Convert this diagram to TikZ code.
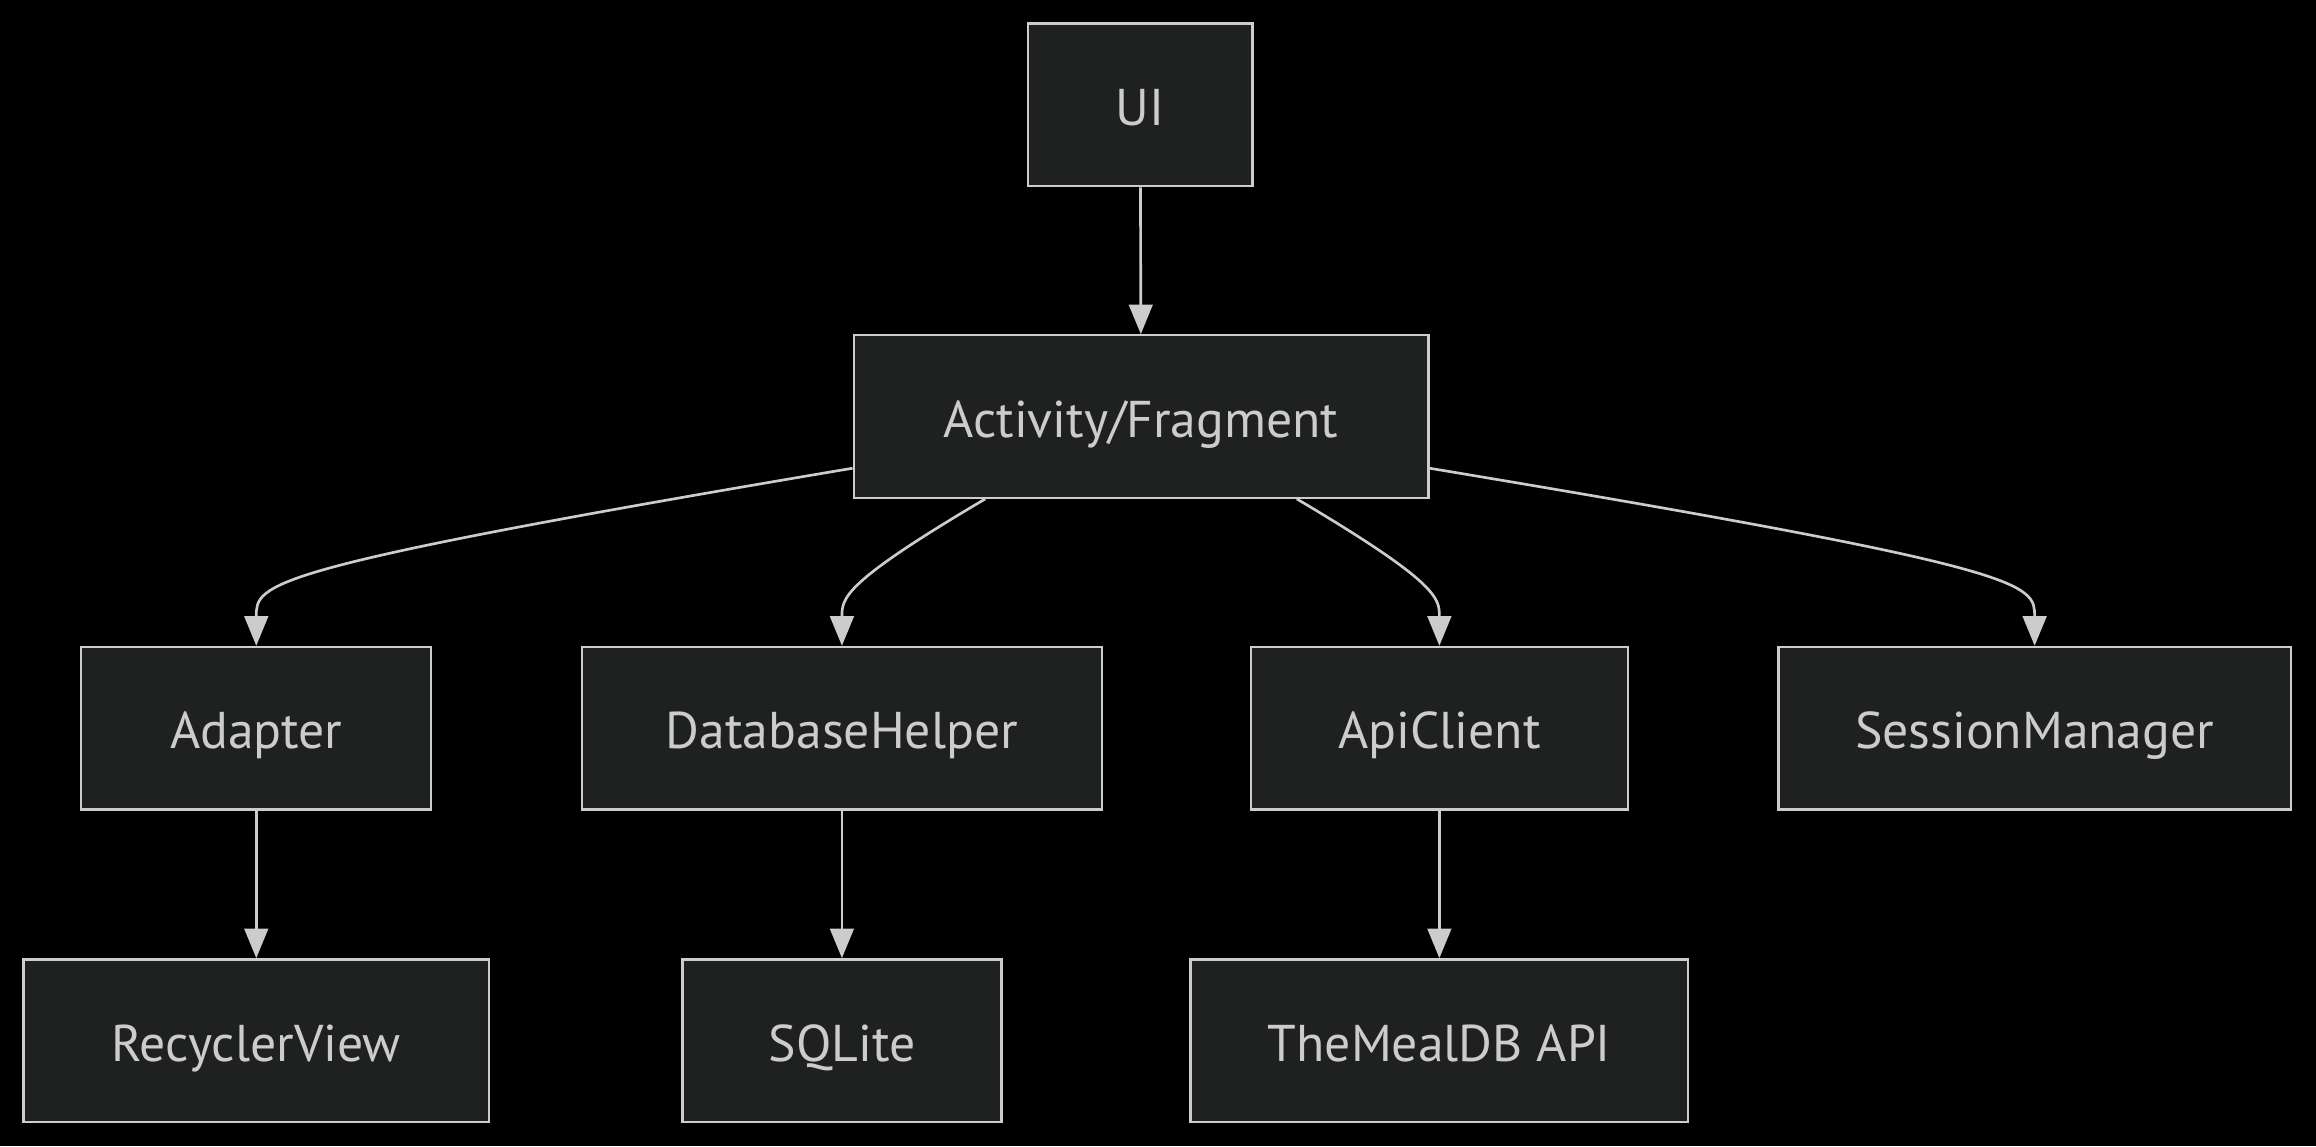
\documentclass[tikz,border=0pt]{standalone}
\usepackage{fontspec}
\setmainfont{PT Sans}
\usetikzlibrary{arrows.meta,calc}
\definecolor{boxfill}{HTML}{1F2020}
\definecolor{boxline}{HTML}{CCCCCC}
\definecolor{txt}{HTML}{CCCCCC}

\begin{document}
\begin{tikzpicture}[x=0.5pt,y=-0.5pt,
    box/.style={draw=boxline,fill=boxfill,line width=0.8pt,text=txt,
        minimum height=55pt,inner sep=0pt,text height=14pt,text depth=0pt,
        font=\fontsize{17.5}{21}\selectfont},
    link/.style={draw=boxline,line width=0.9pt,-{Triangle[length=10pt,width=8pt]}}]
        \fill[black] (0,0) rectangle (1568,776);
        \node[box,minimum width=76pt] (ui) at (772,71) {UI};
        \node[box,minimum width=194.5pt] (act) at (772.5,282) {Activity/Fragment};
        \node[box,minimum width=118.5pt] (adapter) at (173.5,493) {Adapter};
        \node[box,minimum width=176pt] (db) at (570,493) {DatabaseHelper};
        \node[box,minimum width=127.5pt] (api) at (974.5,493) {ApiClient};
        \node[box,minimum width=173.5pt] (session) at (1377.5,493) {SessionManager};
        \node[box,minimum width=157.5pt] (recycler) at (173.5,704.5) {RecyclerView};
        \node[box,minimum width=108pt] (sqlite) at (570,704.5) {SQLite};
        \node[box,minimum width=168.5pt] (meal) at (974.5,704.5) {TheMealDB API};
        \draw[link] (ui) -- (act);
        \draw[link] ($(act.west)+(0,35)$) .. controls (173.5,385) and (173.5,395) .. (adapter.north);
        \draw[link] ($(act.south)+(-105.5,0)$) .. controls (570,395) and (570,405) .. (db.north);
        \draw[link] ($(act.south)+(105.5,0)$) .. controls (974.5,395) and (974.5,405) .. (api.north);
        \draw[link] ($(act.east)+(0,35)$) .. controls (1377.5,385) and (1377.5,395) .. (session.north);
        \draw[link] (adapter) -- (recycler);
        \draw[link] (db) -- (sqlite);
        \draw[link] (api) -- (meal);
    \end{tikzpicture}
\end{document}
